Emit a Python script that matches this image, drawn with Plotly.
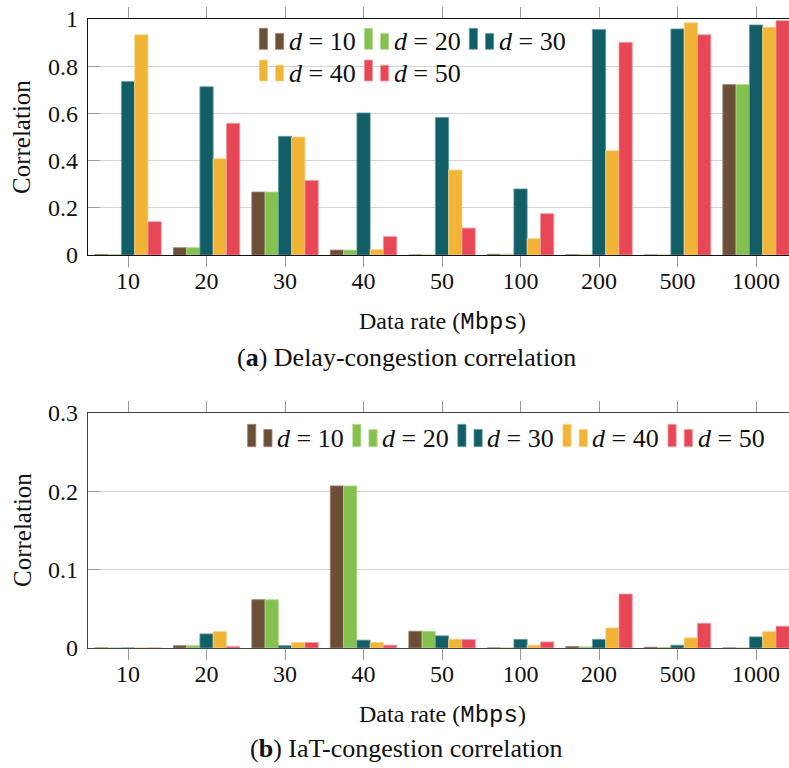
import plotly.graph_objects as go

# ---------------- data ----------------
categories = ["10", "20", "30", "40", "50", "100", "200", "500", "1000"]
series_names = ["d = 10", "d = 20", "d = 30", "d = 40", "d = 50"]
series_labels = ["10", "20", "30", "40", "50"]
colors = ["#6C4F37", "#84C14E", "#125E66", "#F1B436", "#E84856"]
edge_colors = ["#9a8270", "#b5db93", "#6a9da2", "#f7d48c", "#f39aa2"]

# (a) Delay-congestion correlation
delay_d10 = [0.002, 0.031, 0.267, 0.021, 0.0, 0.003, 0.001, 0.0, 0.722]
delay_d20 = [0.002, 0.031, 0.267, 0.021, 0.0, 0.003, 0.001, 0.0, 0.722]
delay_d30 = [0.735, 0.713, 0.503, 0.602, 0.583, 0.280, 0.956, 0.958, 0.975]
delay_d40 = [0.933, 0.408, 0.500, 0.023, 0.360, 0.070, 0.442, 0.984, 0.965]
delay_d50 = [0.141, 0.558, 0.316, 0.078, 0.114, 0.175, 0.901, 0.933, 0.993]

# (b) IaT-congestion correlation
iat_d10 = [0.0, 0.003, 0.0616, 0.2067, 0.0214, 0.0, 0.002, 0.001, 0.0]
iat_d20 = [0.0, 0.003, 0.0616, 0.2067, 0.0214, 0.0, 0.0015, 0.001, 0.0]
iat_d30 = [0.0, 0.018, 0.003, 0.010, 0.0155, 0.011, 0.011, 0.0036, 0.0142]
iat_d40 = [0.0, 0.021, 0.007, 0.007, 0.0112, 0.0036, 0.0256, 0.013, 0.021]
iat_d50 = [0.0, 0.002, 0.007, 0.0036, 0.0108, 0.0078, 0.0688, 0.0316, 0.0278]

delay_series = [delay_d10, delay_d20, delay_d30, delay_d40, delay_d50]
iat_series = [iat_d10, iat_d20, iat_d30, iat_d40, iat_d50]

top_ticks = [0, 0.2, 0.4, 0.6, 0.8, 1]
bottom_ticks = [0, 0.1, 0.2, 0.3]

W, H = 789, 768
FONT = "Liberation Serif, serif"

def px(x):
    return x / W

def py(y):
    return 1 - y / H

fig = go.Figure()
for vals, name, c, ec in zip(delay_series, series_names, colors, edge_colors):
    fig.add_trace(go.Bar(x=categories, y=vals, name=name, marker_color=c,
                         marker_line=dict(color=ec, width=0.8),
                         xaxis="x", yaxis="y", showlegend=False))
for vals, name, c, ec in zip(iat_series, series_names, colors, edge_colors):
    fig.add_trace(go.Bar(x=categories, y=vals, name=name, marker_color=c,
                         marker_line=dict(color=ec, width=0.8),
                         xaxis="x2", yaxis="y2", showlegend=False))

xcommon = dict(type="category", range=[-0.51, 8.42], ticks="outside", ticklen=11,
               tickcolor="#9a9a9a", tickwidth=1.2, showline=True, linewidth=1.3,
               mirror="ticks", showgrid=False, zeroline=False, automargin=False,
               tickfont=dict(family=FONT, size=24, color="#111"),
               ticklabelstandoff=-7,
               domain=[px(88), 1])
ycommon = dict(ticks="inside", ticklen=12, tickcolor="#9a9a9a", tickwidth=1.2,
               showline=True, linewidth=1.3, showgrid=True, gridcolor="#d4d4d4",
               gridwidth=1.2, zeroline=False, automargin=False,
               tickfont=dict(family=FONT, size=24, color="#111"),
               ticklabelstandoff=4)

fig.update_layout(
    template="none",
    width=W, height=H,
    margin=dict(l=0, r=0, t=0, b=0, pad=0),
    paper_bgcolor="white", plot_bgcolor="white",
    barmode="group", bargap=0.153, bargroupgap=0,
    font=dict(family=FONT, size=24, color="#111"),
    xaxis=dict(**xcommon, anchor="y", linecolor="#111"),
    yaxis=dict(**ycommon, anchor="x", linecolor="#111", range=[0, 1],
               tickvals=top_ticks, domain=[py(255), py(19)]),
    xaxis2=dict(**xcommon, anchor="y2", linecolor="#444"),
    yaxis2=dict(**ycommon, anchor="x2", linecolor="#444", range=[0, 0.3],
                tickvals=bottom_ticks, domain=[py(648), py(412.7)]),
)

shapes = []
annotations = []

def legend_entry(x0, ytop, ybot, color, ec, label):
    # two small bars as the legend symbol
    shapes.append(dict(type="rect", xref="paper", yref="paper",
                       x0=px(x0), x1=px(x0 + 8.2), y0=py(ybot), y1=py(ytop),
                       fillcolor=color, line=dict(color=ec, width=0.8)))
    shapes.append(dict(type="rect", xref="paper", yref="paper",
                       x0=px(x0 + 16.2), x1=px(x0 + 24.4), y0=py(ybot), y1=py(ytop + 5.2),
                       fillcolor=color, line=dict(color=ec, width=0.8)))
    annotations.append(dict(xref="paper", yref="paper", x=px(x0 + 27.5),
                            y=py((ytop + ybot) / 2 + 2.5),
                            xanchor="left", yanchor="middle", showarrow=False,
                            text="<i>d</i> = " + label,
                            font=dict(family=FONT, size=26, color="#111")))

# top legend: 3 + 2 layout
for i in range(5):
    row, col = divmod(i, 3)
    legend_entry(259.3 + 105 * col, 28.3 + 31.7 * row, 49.3 + 31.7 * row,
                 colors[i], edge_colors[i], series_labels[i])
# bottom legend: one row
for i in range(5):
    legend_entry(247.6 + 105.1 * i, 424.3, 446.7, colors[i], edge_colors[i], series_labels[i])

mono = "<span style='font-family:Liberation Mono'>Mbps</span>"
for cy in (137, 530):
    annotations.append(dict(xref="paper", yref="paper", x=px(22), y=py(cy),
                            text="Correlation", textangle=-90, showarrow=False,
                            xanchor="center", yanchor="middle",
                            font=dict(family=FONT, size=25, color="#111")))
for cy in (322, 715):
    annotations.append(dict(xref="paper", yref="paper", x=px(442), y=py(cy),
                            text="Data rate (" + mono + ")", showarrow=False,
                            xanchor="center", yanchor="middle",
                            font=dict(family=FONT, size=24, color="#111")))
annotations.append(dict(xref="paper", yref="paper", x=px(406), y=py(357),
                        text="(<b>a</b>) Delay-congestion correlation", showarrow=False,
                        xanchor="center", yanchor="middle",
                        font=dict(family=FONT, size=26, color="#111")))
annotations.append(dict(xref="paper", yref="paper", x=px(406), y=py(748),
                        text="(<b>b</b>) IaT-congestion correlation", showarrow=False,
                        xanchor="center", yanchor="middle",
                        font=dict(family=FONT, size=26, color="#111")))

fig.update_layout(shapes=shapes, annotations=annotations)
fig.write_html("out.html")
